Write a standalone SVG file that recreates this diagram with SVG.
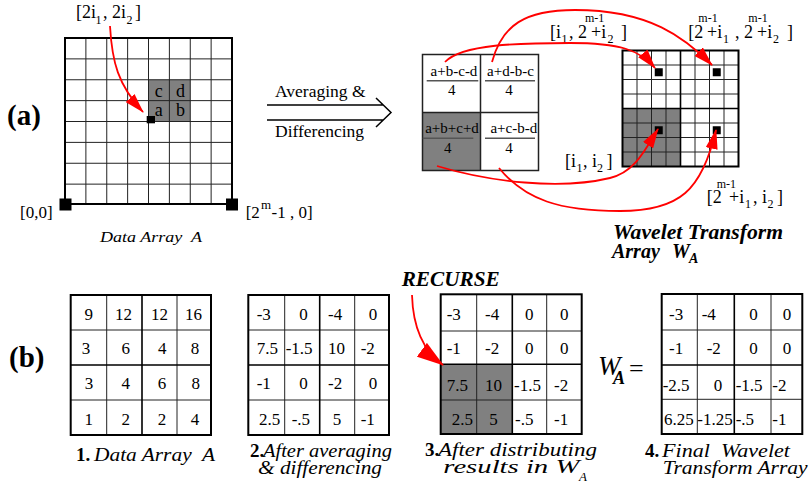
<svg xmlns="http://www.w3.org/2000/svg" width="810" height="487" viewBox="0 0 810 487">
<style>
text{font-family:"Liberation Serif",serif;fill:#000}
.b{font-weight:bold}
.i{font-style:italic}
.bi{font-weight:bold;font-style:italic}
.border{fill:none;stroke:#000;stroke-width:2}
.thin{fill:none;stroke:#222;stroke-width:1}
.mid{fill:none;stroke:#000;stroke-width:1.6}
.gray{fill:#808080}
.red{fill:none;stroke:#f00;stroke-width:1.8}
.frac{stroke:#555;stroke-width:1.5}
.n18{font-size:18px}
.n17{font-size:17px}
.n15{font-size:15px}
</style>
<defs>
<marker id="ah" markerUnits="userSpaceOnUse" markerWidth="20" markerHeight="12" refX="19" refY="6" orient="auto">
<path d="M0,0 L20,6 L0,12 z" fill="#f00"/>
</marker>
<marker id="ahBig" markerUnits="userSpaceOnUse" markerWidth="27" markerHeight="17" refX="26" refY="8.5" orient="auto">
<path d="M0,0 L27,8.5 L0,17 z" fill="#f00"/>
</marker>
</defs>

<!-- (a) label -->
<g id="labelA"><text x="7" y="125" class="b" font-size="29">(a)</text></g>

<!-- Data array A (top) -->
<g id="dataArrayTop">
<rect x="148.5" y="79.75" width="41.75" height="41.75" class="gray"/>
<path class="thin" d="M85.875,38V204M106.75,38V204M127.625,38V204M148.5,38V204M169.375,38V204M190.25,38V204M211.125,38V204M65,58.875H232M65,79.75H232M65,100.625H232M65,121.5H232M65,142.375H232M65,163.25H232M65,184.125H232"/>
<rect x="65" y="38" width="167" height="166" class="border"/>
<text x="158.8" y="96.5" font-size="18" text-anchor="middle">c</text>
<text x="180.5" y="96.5" font-size="18" text-anchor="middle">d</text>
<text x="158.8" y="115.5" font-size="18" text-anchor="middle">a</text>
<text x="180.5" y="115.5" font-size="18" text-anchor="middle">b</text>
<rect x="146.7" y="116" width="8.3" height="7.3" fill="#000"/>
<rect x="59.5" y="198.5" width="12" height="12" fill="#000"/>
<rect x="226" y="198.5" width="12" height="12" fill="#000"/>
<text class="n18"><tspan x="76" y="18">[2i</tspan><tspan x="95.5" y="23.5" font-size="12">1</tspan><tspan x="103" y="18">, 2i</tspan><tspan x="126.5" y="23.5" font-size="12">2</tspan><tspan x="135" y="18">]</tspan></text>
<text class="n17" x="20" y="218">[0,0]</text>
<text class="n17"><tspan x="245.7" y="218">[2</tspan><tspan x="261" y="209" font-size="13">m</tspan><tspan x="271.5" y="218">-1 , 0]</tspan></text>
<text class="i" x="100" y="242" font-size="15" xml:space="preserve" textLength="102" lengthAdjust="spacingAndGlyphs">Data Array  A</text>
</g>

<!-- Averaging & Differencing label -->
<g id="avgLabel">
<text x="275" y="96.5" font-size="17.5">Averaging &amp;</text>
<text x="275" y="136.5" font-size="17.5">Differencing</text>
</g>

<!-- 2x2 result box -->
<g id="resultBox">
<rect x="422.5" y="112.5" width="58" height="58" class="gray"/>
<rect x="422.5" y="54.5" width="116" height="116" fill="none" stroke="#222" stroke-width="1.5"/>
<path d="M480.5,54.5V170.5M422.5,112.5H538.5" stroke="#222" stroke-width="1.5"/>
<text class="n15" x="454" y="75.5" text-anchor="middle">a+b-c-d</text>
<line class="frac" x1="426.7" y1="80.7" x2="478.3" y2="80.7"/>
<text class="n15" x="451.7" y="95" text-anchor="middle">4</text>
<text class="n15" x="510.5" y="75.5" text-anchor="middle">a+d-b-c</text>
<line class="frac" x1="485" y1="80.7" x2="535" y2="80.7"/>
<text class="n15" x="509" y="95" text-anchor="middle">4</text>
<text class="n15" x="452" y="133" text-anchor="middle">a+b+c+d</text>
<line class="frac" x1="422.7" y1="138.3" x2="473.3" y2="138.3"/>
<text class="n15" x="447.7" y="153" text-anchor="middle">4</text>
<text class="n15" x="513.8" y="133" text-anchor="middle">a+c-b-d</text>
<line class="frac" x1="485" y1="138.3" x2="535" y2="138.3"/>
<text class="n15" x="509" y="153" text-anchor="middle">4</text>
</g>

<!-- Wavelet transform array grid -->
<g id="waveletGrid">
<rect x="622.5" y="108.5" width="58" height="58" class="gray"/>
<path class="thin" d="M637,50.5V166.5M651.5,50.5V166.5M666,50.5V166.5M695,50.5V166.5M709.5,50.5V166.5M724,50.5V166.5M622.5,65H738.5M622.5,79.5H738.5M622.5,94H738.5M622.5,123H738.5M622.5,137.5H738.5M622.5,152H738.5"/>
<path class="mid" d="M680.5,50.5V166.5M622.5,108.5H738.5"/>
<rect x="622.5" y="50.5" width="116" height="116" class="border"/>
<rect x="654.75" y="68.25" width="8" height="8" fill="#000"/>
<rect x="712.75" y="68.25" width="8" height="8" fill="#000"/>
<rect x="654.75" y="126.25" width="8" height="8" fill="#000"/>
<rect x="712.75" y="126.25" width="8" height="8" fill="#000"/>
<text class="n18"><tspan x="550" y="37.5">[i</tspan><tspan x="561.5" y="42.5" font-size="12">1</tspan><tspan x="569" y="37.5">, 2</tspan><tspan x="585" y="21.5" font-size="12">m-1</tspan><tspan x="591" y="37.5">+i</tspan><tspan x="607.5" y="42.5" font-size="12">2</tspan><tspan x="621" y="37.5">]</tspan></text>
<text class="n18"><tspan x="688.3" y="37.5">[2</tspan><tspan x="698.3" y="21.5" font-size="12">m-1</tspan><tspan x="707" y="37.5">+i</tspan><tspan x="723" y="42.5" font-size="12">1</tspan><tspan x="735" y="37.5">, 2</tspan><tspan x="748.3" y="21.5" font-size="12">m-1</tspan><tspan x="757" y="37.5">+i</tspan><tspan x="773" y="42.5" font-size="12">2</tspan><tspan x="787" y="37.5">]</tspan></text>
<text class="n18"><tspan x="565" y="167">[i</tspan><tspan x="576.5" y="172" font-size="12">1</tspan><tspan x="583" y="167">, i</tspan><tspan x="597" y="172" font-size="12">2</tspan><tspan x="606.5" y="167">]</tspan></text>
<text class="n18"><tspan x="706.7" y="203">[2</tspan><tspan x="716.7" y="187.5" font-size="12">m-1</tspan><tspan x="729" y="203">+i</tspan><tspan x="745" y="208" font-size="12">1</tspan><tspan x="753" y="203">, i</tspan><tspan x="767.5" y="208" font-size="12">2</tspan><tspan x="777" y="203">]</tspan></text>
<text class="bi" x="613" y="239" font-size="20" textLength="170" lengthAdjust="spacingAndGlyphs">Wavelet Transform</text>
<text class="bi" font-size="20"><tspan x="612" y="258">Array</tspan><tspan x="672" y="258">W</tspan><tspan x="689" y="263" font-size="14">A</tspan></text>
</g>

<!-- (b) label -->
<g id="labelB"><text x="9" y="367" class="b" font-size="29">(b)</text></g>

<!-- Table 1 -->
<g id="table1">
<path class="thin" d="M106.7,295V435M177,295V435M70.7,330H211M70.7,400H211"/>
<path class="mid" d="M142,295V435M70.7,365H211"/>
<rect x="70.7" y="295" width="140.3" height="140" class="border"/>
<g text-anchor="middle" font-size="17">
<text x="88.7" y="320">9</text><text x="123.5" y="320">12</text><text x="159.5" y="320">12</text><text x="193.5" y="320">16</text>
<text x="86" y="354">3</text><text x="125.7" y="354">6</text><text x="162.3" y="354">4</text><text x="195" y="354">8</text>
<text x="89" y="389">3</text><text x="125.8" y="389">4</text><text x="162" y="389">6</text><text x="195.8" y="389">8</text>
<text x="88.8" y="425">1</text><text x="125.8" y="425">2</text><text x="162" y="425">2</text><text x="195" y="425">4</text>
</g>
<text class="b" x="76" y="461" font-size="19">1.</text>
<text class="i" x="94" y="461" font-size="18" xml:space="preserve" textLength="121" lengthAdjust="spacingAndGlyphs">Data Array  A</text>
</g>

<!-- Table 2 -->
<g id="table2">
<path class="thin" d="M284.7,295V435M354.7,295V435M248.3,330H389M248.3,400H389"/>
<path class="mid" d="M319.7,295V435M248.3,365H389"/>
<rect x="248.3" y="295" width="140.7" height="140" class="border"/>
<g font-size="17">
<text x="256.7" y="320">-3</text><text x="299.3" y="320">0</text><text x="328" y="320">-4</text><text x="368.7" y="320">0</text>
<text x="256.7" y="354">7.5</text><text x="285.7" y="354">-1.5</text><text x="328" y="354">10</text><text x="360.7" y="354">-2</text>
<text x="256.7" y="389">-1</text><text x="299.3" y="389">0</text><text x="328" y="389">-2</text><text x="368.7" y="389">0</text>
<text x="259" y="425">2.5</text><text x="291.7" y="425">-.5</text><text x="332.7" y="425">5</text><text x="360.7" y="425">-1</text>
</g>
<text class="b" x="250" y="457" font-size="19">2.</text>
<text class="i" x="263" y="457" font-size="18" textLength="129" lengthAdjust="spacingAndGlyphs">After averaging</text>
<text class="i" x="258" y="474" font-size="18" textLength="124" lengthAdjust="spacingAndGlyphs">&amp; differencing</text>
</g>

<!-- Table 3 -->
<g id="table3">
<rect x="440.7" y="364.3" width="71.6" height="69.7" class="gray"/>
<path class="thin" d="M476.7,294.3V434M546.7,294.3V434M440.7,331H581.7M440.7,400H581.7"/>
<path class="mid" d="M512.3,294.3V434M440.7,364.3H581.7"/>
<rect x="440.7" y="294.3" width="141" height="139.7" class="border"/>
<g font-size="17">
<text x="446.7" y="320">-3</text><text x="485" y="320">-4</text><text x="525" y="320">0</text><text x="560" y="320">0</text>
<text x="446.7" y="354">-1</text><text x="485" y="354">-2</text><text x="525" y="354">0</text><text x="560" y="354">0</text>
<text x="446.7" y="391">7.5</text><text x="485" y="391">10</text><text x="514" y="391">-1.5</text><text x="554" y="391">-2</text>
<text x="451.7" y="425">2.5</text><text x="489.3" y="425">5</text><text x="515" y="425">-.5</text><text x="554" y="425">-1</text>
</g>
<text class="b" x="425" y="456" font-size="19">3.</text>
<text class="i" x="438" y="456" font-size="18" textLength="159" lengthAdjust="spacingAndGlyphs">After distributing</text>
<text class="i" x="443.3" y="473" font-size="18" textLength="136" lengthAdjust="spacingAndGlyphs">results in W</text>
<text class="i" x="579" y="481" font-size="13">A</text>
<text class="bi" x="401.7" y="285.7" font-size="20" textLength="98" lengthAdjust="spacingAndGlyphs">RECURSE</text>
</g>

<!-- Table 4 -->
<g id="table4">
<path class="thin" d="M697.3,294V434M771,294V434M661.7,330H802.3M661.7,399.3H802.3"/>
<path class="mid" d="M734.3,294V434M661.7,365H802.3"/>
<rect x="661.7" y="294" width="140.6" height="140" class="border"/>
<g font-size="17">
<text x="669" y="320">-3</text><text x="701.7" y="320">-4</text><text x="749.3" y="320">0</text><text x="782.7" y="320">0</text>
<text x="669" y="354">-1</text><text x="706.7" y="354">-2</text><text x="749.3" y="354">0</text><text x="782.7" y="354">0</text>
<text x="662.7" y="391">-2.5</text><text x="713.7" y="391">0</text><text x="735.7" y="391">-1.5</text><text x="772.3" y="391">-2</text>
<text x="664" y="425">6.25</text><text x="697.3" y="425">-1.25</text><text x="735.7" y="425">-.5</text><text x="772.3" y="425">-1</text>
</g>
<text class="i" x="598" y="375" font-size="27">W</text>
<text class="bi" x="613" y="384" font-size="18">A</text>
<text x="629" y="377" font-size="26">=</text>
<text class="b" x="645" y="457" font-size="19">4.</text>
<text class="i" x="662" y="457" font-size="18" xml:space="preserve" textLength="128" lengthAdjust="spacingAndGlyphs">Final  Wavelet</text>
<text class="i" x="662.7" y="474" font-size="18" textLength="145" lengthAdjust="spacingAndGlyphs">Transform Array</text>
</g>

<!-- connectors -->
<g id="connectors">
<path d="M267,105H383M267,120H383M376,98L391,112.5L376,127" fill="none" stroke="#000" stroke-width="1.5"/>
<path class="red" d="M110,26 C112,62 118,85 143,112" marker-end="url(#ah)"/>
<path class="red" d="M445,62 C462,44 520,43 570,43 C620,43 640,50 655,68" marker-end="url(#ah)"/>
<path class="red" d="M492,62 C502,25 525,10 575,10 C650,10 685,38 712,65" marker-end="url(#ah)"/>
<path class="red" d="M437,166 C490,182 560,190 610,178 C635,172 645,150 658,129" marker-end="url(#ah)"/>
<path class="red" d="M499,168 C525,200 560,211 620,211 C680,211 702,190 716,130" marker-end="url(#ah)"/>
<path class="red" d="M412,295 C413,330 425,352 443,365" marker-end="url(#ahBig)"/>
</g>
</svg>
